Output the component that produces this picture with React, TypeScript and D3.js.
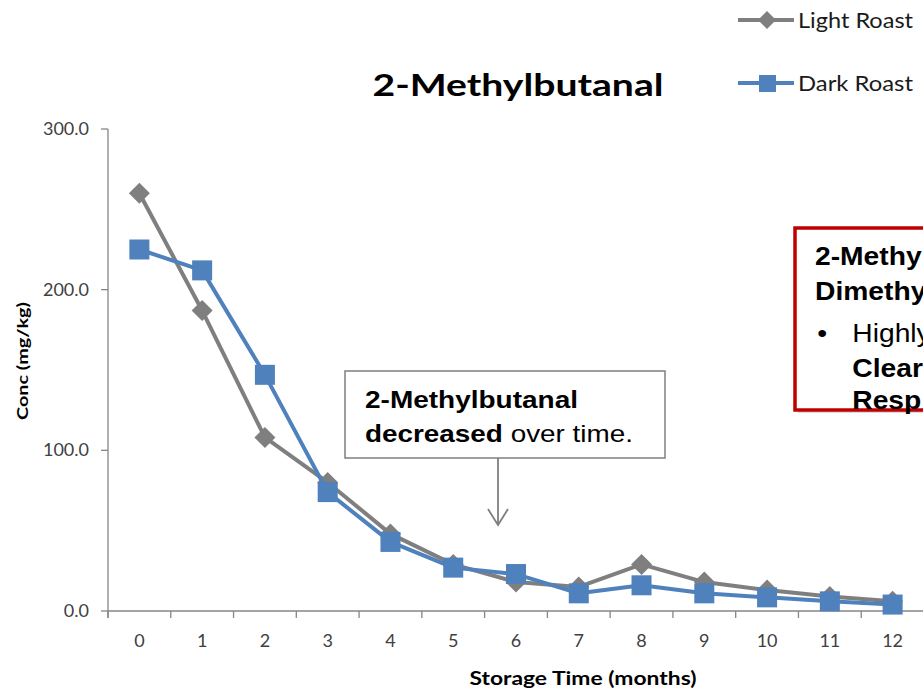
import React from "react"
import * as d3 from "d3"

const months = ["0", "1", "2", "3", "4", "5", "6", "7", "8", "9", "10", "11", "12"]
const lightRoast = [260, 187, 108, 80, 48, 29, 18, 15, 29, 18, 13, 9, 6]
const darkRoast = [225, 212, 147, 74, 43, 27, 23, 11, 16, 11, 8.5, 6, 4]
const yTicks = [0, 100, 200, 300]

const W = 923
const H = 689
const margin = { left: 108, top: 129, right: 924, bottom: 611 }

const GRAY = "#7f7f7f"
const BLUE = "#4f81bd"
const AXIS = "#868686"
const calibri = "Lato, 'Open Sans', sans-serif"
const arial = "'Liberation Sans', Arial, sans-serif"

export default function App() {
  const x = d3.scaleBand().domain(months).range([margin.left, margin.right])
  const y = d3.scaleLinear().domain([0, 300]).range([margin.bottom, margin.top])
  const bw = x.bandwidth()
  const cx = (m: string) => (x(m) as number) + bw / 2

  const line = d3
    .line<number>()
    .x((_, i) => cx(months[i]))
    .y((d) => y(d))

  const diamond = (px: number, py: number, r: number) =>
    `M${px},${py - r} L${px + r},${py} L${px},${py + r} L${px - r},${py} Z`

  return (
    <div style={{ position: "fixed", left: 0, top: 0 }}>
      <svg width={W} height={H} style={{ display: "block", background: "#fff" }}>
        {/* title */}
        <text
          x={518}
          y={96}
          textAnchor="middle"
          fontFamily={calibri}
          fontWeight="bold"
          fontSize={30}
          textLength={291}
          lengthAdjust="spacingAndGlyphs"
          fill="#000"
        >
          2-Methylbutanal
        </text>

        {/* legend */}
        <g>
          <line x1={738} x2={794} y1={20} y2={20} stroke={GRAY} strokeWidth={4} />
          <path d={diamond(767, 20, 9)} fill={GRAY} />
          <text x={798} y={28} fontFamily={calibri} fontSize={22} textLength={115} lengthAdjust="spacingAndGlyphs" fill="#1a1a1a">
            Light Roast
          </text>
          <line x1={738} x2={794} y1={83} y2={83} stroke={BLUE} strokeWidth={4} />
          <rect x={759} y={75} width={17} height={17} fill={BLUE} />
          <text x={798} y={91} fontFamily={calibri} fontSize={22} textLength={115} lengthAdjust="spacingAndGlyphs" fill="#1a1a1a">
            Dark Roast
          </text>
        </g>

        {/* y axis */}
        <line x1={margin.left} x2={margin.left} y1={margin.top} y2={margin.bottom + 7} stroke={AXIS} strokeWidth={1.3} />
        {yTicks.map((t) => (
          <g key={t}>
            <line x1={margin.left - 7} x2={margin.left} y1={y(t)} y2={y(t)} stroke={AXIS} strokeWidth={1.3} />
            <text x={89} y={y(t) + 6} textAnchor="end" fontFamily={calibri} fontSize={18} fill="#404040">
              {t.toFixed(1)}
            </text>
          </g>
        ))}
        <text
          transform={`translate(28,361) rotate(-90)`}
          textAnchor="middle"
          fontFamily={calibri}
          fontWeight="bold"
          fontSize={15}
          textLength={118}
          lengthAdjust="spacingAndGlyphs"
          fill="#000"
        >
          Conc (mg/kg)
        </text>

        {/* x axis */}
        <line x1={margin.left} x2={W} y1={margin.bottom} y2={margin.bottom} stroke={AXIS} strokeWidth={1.3} />
        {months.map((m) => (
          <g key={m}>
            <line x1={x(m) as number} x2={x(m) as number} y1={margin.bottom} y2={margin.bottom + 7} stroke={AXIS} strokeWidth={1.3} />
            <text x={cx(m)} y={647} textAnchor="middle" fontFamily={calibri} fontSize={18} fill="#404040">
              {m}
            </text>
          </g>
        ))}
        <text
          x={583}
          y={685}
          textAnchor="middle"
          fontFamily={calibri}
          fontWeight="bold"
          fontSize={18}
          textLength={227}
          lengthAdjust="spacingAndGlyphs"
          fill="#000"
        >
          Storage Time (months)
        </text>

        {/* series */}
        <path d={line(lightRoast) as string} fill="none" stroke={GRAY} strokeWidth={4} strokeLinejoin="round" />
        {lightRoast.map((v, i) => (
          <path key={"l" + i} d={diamond(cx(months[i]), y(v), 10.5)} fill={GRAY} />
        ))}
        <path d={line(darkRoast) as string} fill="none" stroke={BLUE} strokeWidth={4} strokeLinejoin="round" />
        {darkRoast.map((v, i) => (
          <rect key={"d" + i} x={cx(months[i]) - 10} y={y(v) - 10} width={20} height={20} fill={BLUE} />
        ))}

        {/* annotation box */}
        <rect x={345} y={371} width={320} height={87} fill="#fff" stroke={GRAY} strokeWidth={1.5} />
        <text x={365} y={408} fontFamily={arial} fontWeight="bold" fontSize={24} textLength={213} lengthAdjust="spacingAndGlyphs" fill="#000">
          2-Methylbutanal
        </text>
        <text x={365} y={442} fontFamily={arial} fontSize={24} textLength={268} lengthAdjust="spacingAndGlyphs" fill="#000">
          <tspan fontWeight="bold">decreased</tspan> over time.
        </text>
        <line x1={498} x2={498} y1={458} y2={525} stroke={GRAY} strokeWidth={1.8} />
        <path d="M488,509 L498,525 L508,509" fill="none" stroke={GRAY} strokeWidth={1.8} />

        {/* red callout, cut off at the right edge as in the source slide */}
        <rect x={798} y={231} width={160} height={182} fill="#bfbfbf" opacity={0.6} />
        <rect x={795} y={228} width={160} height={182} fill="#fff" stroke="#c00000" strokeWidth={3.5} />
        <g transform="translate(815,0) scale(1.13,1)" fontFamily={arial} fontSize={25} fill="#000">
          <text x={0} y={265} fontWeight="bold">2-Methy</text>
          <text x={0} y={300} fontWeight="bold">Dimethy</text>
          <text x={2} y={342}>•</text>
          <text x={33} y={342}>Highly</text>
          <text x={33} y={377} fontWeight="bold">Clear</text>
          <text x={33} y={409} fontWeight="bold">Resp</text>
        </g>
      </svg>
    </div>
  )
}
